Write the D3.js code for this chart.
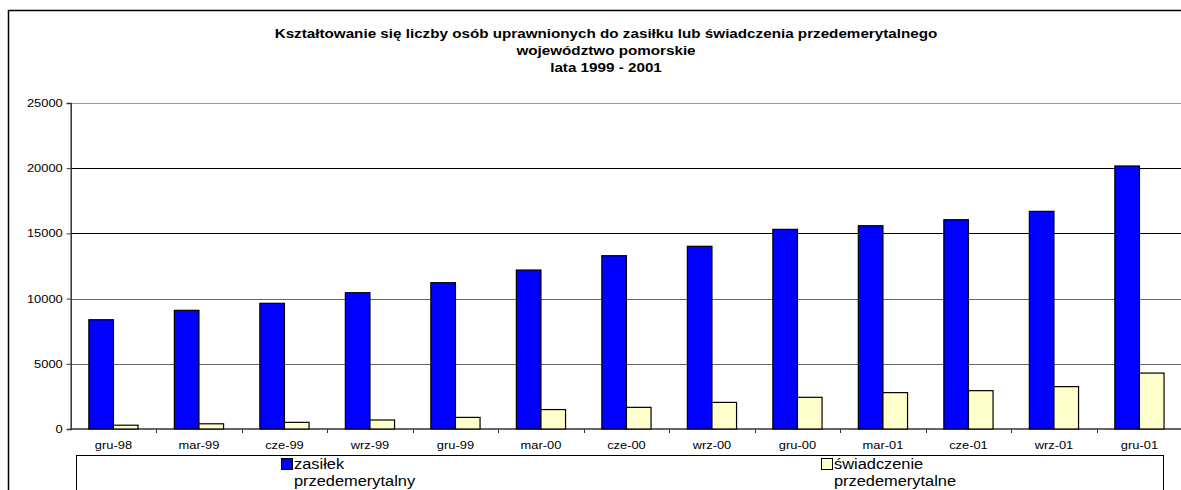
<!DOCTYPE html>
<html>
<head>
<meta charset="utf-8">
<script src="https://cdn.jsdelivr.net/npm/d3@7/dist/d3.min.js"></script>
<style>
html,body{margin:0;padding:0;background:#fff;}
svg{display:block;font-family:Arial,"Liberation Sans",sans-serif;}
</style>
</head>
<body>
<svg id="chart" width="1181" height="490"></svg>
<script>
const categories = ["gru-98","mar-99","cze-99","wrz-99","gru-99","mar-00","cze-00","wrz-00","gru-00","mar-01","cze-01","wrz-01","gru-01"];
const zasilek = [8380, 9100, 9640, 10450, 11220, 12190, 13290, 14010, 15310, 15590, 16050, 16690, 20170];
const swiadczenie = [290, 400, 510, 690, 890, 1490, 1660, 2040, 2430, 2790, 2940, 3250, 4290];
const yTicks = [0, 5000, 10000, 15000, 20000, 25000];
const seriesNames = [["zasiłek","przedemerytalny"],["świadczenie","przedemerytalne"]];
const titleLines = ["Kształtowanie się liczby osób uprawnionych do zasiłku lub świadczenia przedemerytalnego","województwo pomorskie","lata 1999 - 2001"];

const STRETCH = 1.17;
function stretch(sel){
  sel.each(function(){
    const len = this.getComputedTextLength();
    if (len > 0) {
      this.setAttribute("textLength", len*STRETCH);
      this.setAttribute("lengthAdjust","spacingAndGlyphs");
    }
  });
}

const svg = d3.select("#chart");

// outer frame (cropped on the right and bottom)
svg.append("rect").attr("x",8.5).attr("y",10.5).attr("width",1200).attr("height",600)
  .attr("fill","none").attr("stroke","#000").attr("stroke-width",1.5);

// title
svg.append("g").selectAll("text").data(titleLines).join("text")
  .attr("x",606).attr("y",(d,i)=>38+i*17)
  .attr("text-anchor","middle").attr("font-size","13px").attr("font-weight","bold")
  .attr("fill","#000").text(d=>d).call(stretch);

const x0 = 70.7, bandW = 85.5;
const x = d3.scaleBand().domain(categories).range([x0, x0 + bandW*categories.length]).paddingInner(0).paddingOuter(0);
const y = d3.scaleLinear().domain([0,25000]).range([429,103]);

// gridlines
const gridColor = v => (v===15000||v===20000) ? "#000" : (v===25000 ? "#999" : "#666");
svg.append("g").selectAll("line").data(yTicks.filter(v=>v>0)).join("line")
  .attr("x1",x0).attr("x2",1200)
  .attr("y1",d=>Math.round(y(d))+0.5).attr("y2",d=>Math.round(y(d))+0.5)
  .attr("stroke",d=>gridColor(d)).attr("stroke-width",1);

// y axis
const yAxis = d3.axisLeft(y).tickValues(yTicks).tickSize(4).tickPadding(4).tickFormat(d3.format("d"));
const gy = svg.append("g").attr("transform",`translate(${x0},0)`).call(yAxis);
gy.select(".domain").attr("stroke","#333").attr("stroke-width",1.5);
gy.selectAll(".tick line").attr("stroke","#333");
gy.selectAll(".tick text").attr("font-size","11px").attr("fill","#000")
  .attr("font-family","Arial, 'Liberation Sans', sans-serif").call(stretch);

// x axis
const xAxis = d3.axisBottom(x).tickSize(0).tickPadding(12);
const gx = svg.append("g").attr("transform",`translate(0,${y(0)})`).call(xAxis);
gx.select(".domain").remove();
gx.selectAll(".tick text").attr("font-size","11px").attr("fill","#000")
  .attr("font-family","Arial, 'Liberation Sans', sans-serif").call(stretch);
svg.append("line").attr("x1",x0).attr("x2",1200).attr("y1",y(0)).attr("y2",y(0)).attr("stroke","#333").attr("stroke-width",1.5);
// category separator ticks
svg.append("g").selectAll("line").data(categories.slice(1)).join("line")
  .attr("x1",d=>Math.round(x(d))+0.5).attr("x2",d=>Math.round(x(d))+0.5)
  .attr("y1",y(0)).attr("y2",y(0)+4).attr("stroke","#333");

// bars
const barW = 24.6, offset = (bandW - 2*barW)/2;
const colors = ["#0000ff","#ffffcc"];
const data = [zasilek, swiadczenie];
data.forEach((vals,si)=>{
  svg.append("g").selectAll("rect").data(categories).join("rect")
    .attr("x",(d)=>x(d)+offset+si*barW)
    .attr("y",(d,i)=>y(vals[i]))
    .attr("width",barW)
    .attr("height",(d,i)=>y(0)-y(vals[i]))
    .attr("fill",colors[si]).attr("stroke","#000").attr("stroke-width",1.2);
});

// legend
svg.append("rect").attr("x",76.5).attr("y",455.5).attr("width",1087).attr("height",60)
  .attr("fill","#fff").attr("stroke","#000").attr("stroke-width",1);
const legX = [281, 821];
seriesNames.forEach((nm,i)=>{
  svg.append("rect").attr("x",legX[i]+0.5).attr("y",458.5).attr("width",11).attr("height",11)
    .attr("fill",colors[i]).attr("stroke","#000").attr("stroke-width",1);
  svg.append("text").attr("x",legX[i]+13).attr("y",469).attr("font-size","14px").attr("fill","#000").text(nm[0]).call(stretch);
  svg.append("text").attr("x",legX[i]+13).attr("y",486).attr("font-size","14px").attr("fill","#000").text(nm[1]).call(stretch);
});
</script>
</body>
</html>
